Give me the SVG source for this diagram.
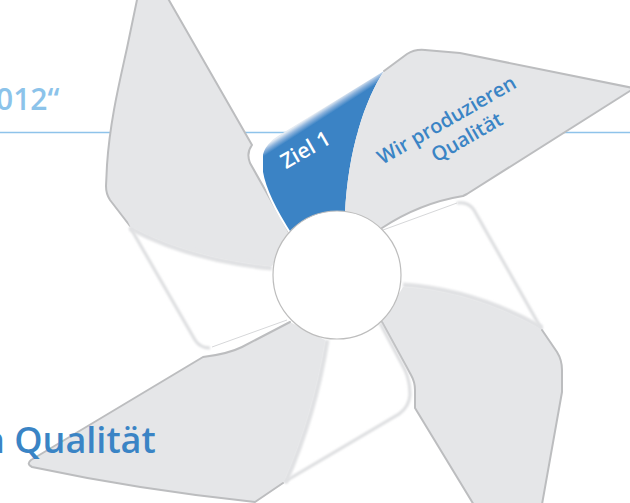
<svg xmlns="http://www.w3.org/2000/svg" width="630" height="503" viewBox="0 0 630 503">
<defs>
<style>
.gray{fill:#e5e6e8;}
.outline{fill:none;stroke:#bcbdbf;stroke-width:2;stroke-linejoin:round;stroke-linecap:round;}
.fold{fill:#ffffff;}
.edge{fill:none;stroke:#dcdddf;stroke-width:3;filter:url(#soft);}
.crease{fill:none;stroke:#e0e1e3;stroke-width:5;filter:url(#soft2);}
.thin{fill:none;stroke:#d6d7d9;stroke-width:1;}
.label{font-family:"Open Sans","Noto Sans","DejaVu Sans",sans-serif;font-weight:600;}
</style>
<filter id="soft" filterUnits="userSpaceOnUse" x="0" y="0" width="630" height="503"><feGaussianBlur stdDeviation="0.8"/></filter>
<filter id="soft2" filterUnits="userSpaceOnUse" x="0" y="0" width="630" height="503"><feGaussianBlur stdDeviation="1.3"/></filter>
<linearGradient id="blueFade" gradientUnits="userSpaceOnUse" x1="330" y1="104" x2="334.5" y2="111">
<stop offset="0" stop-color="#e3eaf2"/>
<stop offset="0.45" stop-color="#8db3dc"/>
<stop offset="1" stop-color="#3b83c5"/>
</linearGradient>
</defs>

<rect width="630" height="503" fill="#ffffff"/>

<g id="rule">
<line x1="0" y1="132.5" x2="630" y2="132.5" stroke="#8ec3ea" stroke-width="1.5"/>
</g>

<g id="heading-top">
<text class="label" x="-4" y="110" font-size="30" fill="#8cc3ea">012“</text>
</g>

<g id="blade-top">
<path class="gray" d="M272,266 Q190,258 130,226 L110,200 Q106,194 106,186 L107,165 C110,120 120,80 127,48 L138,-5 L166,-5 L252,145 Q246,153 250,163 L290,234 Z"/>
<path class="outline" d="M130,226 L110,200 Q106,194 106,186 L107,165 C110,120 120,80 127,48 L138,-5 M166,-5 L252,145 Q246,153 250,163 L290,234"/>
</g>

<g id="blade-left-fold">
<path class="fold" d="M272,266 Q190,258 130,226 L195,340 Q200,348 210,348 L287,320 Z"/>
<path class="edge" d="M130,227 L195,340 Q200,348 210,348"/>
<path class="thin" d="M212,347 L287,320"/>
<path class="crease" d="M272,268 Q190,260 130,228"/>
<path class="gray" d="M272,266 Q190,258 130,226 L128,222 Q190,254 273,262 Z"/>
</g>

<g id="blade-right">
<path d="M384,71 L278,136 Q262,146 262,162 L262,172 Q266,196 292,236 L345,214 C348,150 365,100 384,71 Z" fill="url(#blueFade)"/>
<path d="M262,150 L262,172 Q266,196 292,236" fill="none" stroke="#ffffff" stroke-width="2"/>
<path class="gray" d="M384,71 L407,54 Q415,49 425,50 L460,53 L633,88 L467,194 L463,196 Q420,203 382,228 L345,214 C348,150 365,100 384,71 Z"/>
<path class="outline" d="M384,71 L407,54 Q415,49 425,50 L460,53 L633,88 M633,89 L467,194 L463,196 Q420,203 382,228"/>
<text class="label" transform="translate(309,156) rotate(-30)" text-anchor="middle" font-size="21" fill="#ffffff">Ziel 1</text>
<g transform="translate(450,126) rotate(-30)">
<text class="label" x="0" y="0" text-anchor="middle" font-size="20" fill="#3a84c5">Wir produzieren</text>
<text class="label" x="9" y="25" text-anchor="middle" font-size="20" fill="#3a84c5">Qualität</text>
</g>
</g>

<g id="blade-lower-right">
<path class="fold" d="M383,230 L457,203 Q468,201 474,210 L542,330 Q475,292 403,287 Z"/>
<path class="edge" d="M457,203 Q468,201 474,210 L542,330"/>
<path class="thin" d="M383,230 L457,203"/>
<path class="crease" d="M403,285 Q475,290 542,328"/>
<path class="gray" d="M403,287 Q475,292 542,330 L557,352 Q562,360 562,370 L562,392 L541,510 L477,510 L415,408 L415,390 Q415,382 411,375 L382,322 Z"/>
<path class="outline" d="M542,330 L557,352 Q562,360 562,370 L562,392 L541,510 M477,510 L415,408 L415,390 Q415,382 411,375 L382,322"/>
</g>

<g id="blade-bottom">
<path class="fold" d="M380,323 L405,370 Q411,382 411,395 Q410,408 400,415 L283,483 Q313,415 325,340 Z"/>
<path class="edge" d="M380,323 L405,370 Q410,381 410,395 Q409,407 399,414 L284,482"/>
<path class="crease" d="M327,340 Q315,415 285,483"/>
<path class="gray" d="M325,340 Q313,415 283,483 L255,502 Q140,490 32,467 Q26,464 31,460 L203,357 Q228,354 242,347 L290,322 Z"/>
<path class="outline" d="M283,483 L255,502 Q140,490 32,467 Q26,464 31,460 L203,357 Q228,354 242,347 L290,322"/>
</g>

<g id="hub">
<circle cx="337" cy="275" r="64" fill="#ffffff" stroke="#bdbdbd" stroke-width="1.2"/>
</g>

<g id="heading-bottom">
<text class="label" x="-18" y="453" font-size="36" fill="#3a84c5">n Qualität</text>
</g>
</svg>
